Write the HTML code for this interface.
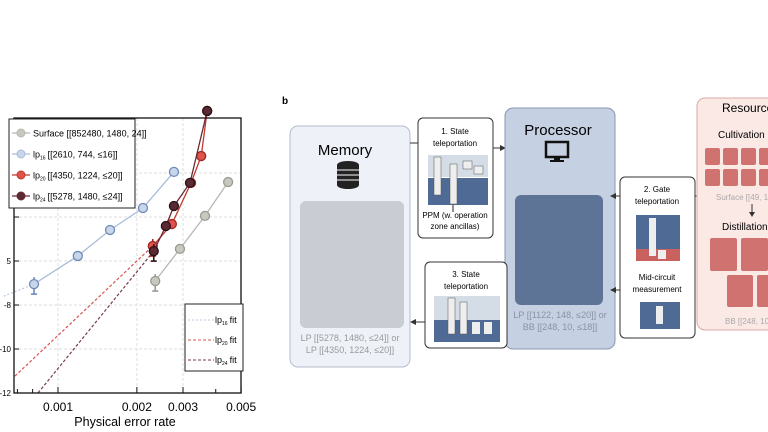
<!DOCTYPE html>
<html><head><meta charset="utf-8">
<style>
body{margin:0;width:768px;height:432px;background:#fff;overflow:hidden;font-family:"Liberation Sans",sans-serif;}
svg{position:absolute;left:0;top:0}
text{font-family:"Liberation Sans",sans-serif}
</style></head>
<body>
<svg id="fig" width="768" height="432">
 <g id="chart"></g>
 <g id="diagram">
  <text x="282" y="104" font-size="10" font-weight="bold">b</text>
  <rect x="290" y="126" width="120" height="241" rx="8" fill="#eef2f8" stroke="#b4bccb"/>
  <text x="345" y="155" font-size="15" text-anchor="middle">Memory</text>
  <g fill="#222">
   <ellipse cx="348" cy="165" rx="11" ry="4"/><rect x="337" y="165" width="22" height="20"/><ellipse cx="348" cy="185" rx="11" ry="4"/>
   <line x1="337" y1="170" x2="359" y2="170" stroke="#fff"/><line x1="337" y1="175" x2="359" y2="175" stroke="#fff"/><line x1="337" y1="180" x2="359" y2="180" stroke="#fff"/>
  </g>
  <rect x="300" y="201" width="104" height="127" rx="6" fill="#c9cdd3"/>
  <text x="350" y="341" font-size="9" fill="#999" text-anchor="middle">LP [[5278, 1480, ≤24]] or</text>
  <text x="350" y="353" font-size="9" fill="#999" text-anchor="middle">LP [[4350, 1224, ≤20]]</text>
  <line x1="410" y1="143" x2="418" y2="143" stroke="#333"/>
  <rect x="418" y="118" width="75" height="120" rx="5" fill="#fff" stroke="#333"/>
  <text x="455" y="134" font-size="8" text-anchor="middle">1. State</text>
  <text x="455" y="146" font-size="8" text-anchor="middle">teleportation</text>
  <rect x="428" y="155" width="60" height="22" fill="#d4dde6"/><rect x="428" y="178" width="60" height="27" fill="#4f6a95"/>
  <rect x="434" y="157" width="7" height="38" fill="#eee" stroke="#555" stroke-width=".5"/><rect x="450" y="164" width="7" height="40" fill="#eee" stroke="#555" stroke-width=".5"/>
  <rect x="463" y="161" width="9" height="8" fill="#eee" stroke="#555" stroke-width=".5"/><rect x="474" y="166" width="9" height="8" fill="#eee" stroke="#555" stroke-width=".5"/>
  <line x1="453" y1="205" x2="453" y2="212" stroke="#222"/>
  <text x="455" y="218" font-size="8" text-anchor="middle">PPM (w. operation</text>
  <text x="455" y="229" font-size="8" text-anchor="middle">zone ancillas)</text>
  <line x1="493" y1="148" x2="503" y2="148" stroke="#333"/>
  <polygon points="506,148 500,145 500,151" fill="#333"/>
  <rect x="505" y="108" width="110" height="241" rx="8" fill="#c5d0e3" stroke="#8896b0"/>
  <text x="558" y="135" font-size="15" text-anchor="middle">Processor</text>
  <g><rect x="546" y="142" width="22" height="15" fill="none" stroke="#111" stroke-width="2.5"/><rect x="554" y="157" width="6" height="3" fill="#111"/><rect x="550" y="160" width="14" height="2" fill="#111"/></g>
  <rect x="515" y="195" width="88" height="110" rx="6" fill="#5e7497"/>
  <text x="560" y="318" font-size="9" fill="#8a93a3" text-anchor="middle">LP [[1122, 148, ≤20]] or</text>
  <text x="560" y="330" font-size="9" fill="#8a93a3" text-anchor="middle">BB [[248, 10, ≤18]]</text>
  <line x1="505" y1="306" x2="507" y2="306" stroke="#333"/>
  <rect x="425" y="262" width="82" height="86" rx="5" fill="#fff" stroke="#333"/>
  <text x="466" y="277" font-size="8" text-anchor="middle">3. State</text>
  <text x="466" y="289" font-size="8" text-anchor="middle">teleportation</text>
  <rect x="434" y="296" width="66" height="24" fill="#d4dde6"/><rect x="434" y="320" width="66" height="22" fill="#4f6a95"/>
  <rect x="448" y="298" width="7" height="36" fill="#eee" stroke="#555" stroke-width=".5"/><rect x="460" y="302" width="7" height="32" fill="#eee" stroke="#555" stroke-width=".5"/><rect x="472" y="322" width="8" height="12" fill="#eee"/><rect x="484" y="322" width="8" height="12" fill="#eee"/>
  <line x1="425" y1="322" x2="414" y2="322" stroke="#333"/>
  <polygon points="410,322 416,319 416,325" fill="#333"/>
  <rect x="620" y="177" width="75" height="161" rx="5" fill="#fff" stroke="#333"/>
  <text x="657" y="192" font-size="8" text-anchor="middle">2. Gate</text>
  <text x="657" y="204" font-size="8" text-anchor="middle">teleportation</text>
  <rect x="636" y="215" width="44" height="34" fill="#4f6a95"/><rect x="636" y="249" width="44" height="12" fill="#c9625f"/>
  <rect x="649" y="218" width="7" height="38" fill="#eee"/><rect x="658" y="250" width="8" height="9" fill="#eee"/>
  <text x="657" y="280" font-size="8" text-anchor="middle">Mid-circuit</text>
  <text x="657" y="292" font-size="8" text-anchor="middle">measurement</text>
  <rect x="640" y="302" width="40" height="27" fill="#4f6a95"/><rect x="656" y="306" width="7" height="18" fill="#eee"/>
  <line x1="620" y1="196" x2="614" y2="196" stroke="#333"/><polygon points="610,196 616,193 616,199" fill="#333"/>
  <line x1="620" y1="290" x2="614" y2="290" stroke="#333"/><polygon points="610,290 616,287 616,293" fill="#333"/>
  <line x1="695" y1="196" x2="700" y2="196" stroke="#333"/>
  <rect x="697" y="98" width="90" height="232" rx="8" fill="#fbe9e6" stroke="#d9a9a5"/>
  <text x="722" y="112" font-size="12">Resource</text>
  <text x="718" y="138" font-size="10">Cultivation</text>
  <g fill="#d0726f">
   <rect x="705" y="148" width="15" height="17" rx="2"/><rect x="723" y="148" width="15" height="17" rx="2"/><rect x="741" y="148" width="15" height="17" rx="2"/><rect x="759" y="148" width="15" height="17" rx="2"/>
   <rect x="705" y="169" width="15" height="17" rx="2"/><rect x="723" y="169" width="15" height="17" rx="2"/><rect x="741" y="169" width="15" height="17" rx="2"/><rect x="759" y="169" width="15" height="17" rx="2"/>
  </g>
  <text x="716" y="200" font-size="8" fill="#aaa">Surface [[49, 1</text>
  <line x1="752" y1="204" x2="752" y2="214" stroke="#333"/><polygon points="752,217 749,212 755,212" fill="#333"/>
  <text x="722" y="230" font-size="10">Distillation</text>
  <g fill="#d0726f">
   <rect x="710" y="238" width="27" height="33" rx="2"/><rect x="741" y="238" width="27" height="33" rx="2"/>
   <rect x="727" y="275" width="26" height="32" rx="2"/><rect x="757" y="275" width="26" height="32" rx="2"/>
  </g>
  <text x="725" y="324" font-size="8" fill="#aaa">BB [[248, 10</text>
 </g>
</svg>
<script>
const seriesNames=["Surface [[852480, 1480, 24]]","lp16 [[2610, 744, ≤16]]","lp20 [[4350, 1224, ≤20]]","lp24 [[5278, 1480, ≤24]]"];
const surfaceP=[0.00235,0.00292,0.00364,0.00446];
const surfaceLogL=[-6.91,-5.45,-3.95,-2.41];
const lp16P=[0.00081,0.00119,0.00158,0.00211,0.00277];
const lp16LogL=[-7.05,-5.77,-4.59,-3.59,-1.95];
const lp20P=[0.00230,0.00272,0.00322,0.00352,0.00371];
const lp20LogL=[-5.32,-4.32,-2.45,-1.23,0.82];
const lp24P=[0.00232,0.00258,0.00277,0.00319,0.00371];
const lp24LogL=[-5.55,-4.41,-3.5,-2.45,0.82];
const fit16P=[0.00062,0.00081];const fit16LogL=[-7.6,-7.05];
const fit20P=[0.000685,0.00230];const fit20LogL=[-11.23,-5.32];
const fit24P=[0.000839,0.00232];const fit24LogL=[-12,-5.55];
const xTicks=[0.001,0.002,0.003,0.005];
const xTickLabels=["0.001","0.002","0.003","0.005"];
const yTicks=[-12,-10,-8,-6,-4,-2];
const yTickLabels=["-12","-10","-8","5","",""];

const NS="http://www.w3.org/2000/svg";
const g=document.getElementById('chart');
const X=p=>58+262*Math.log10(p/0.001);
const Y=l=>393-22*(l+12);
function mk(tag,attrs,parent){const e=document.createElementNS(NS,tag);for(const k in attrs)e.setAttribute(k,attrs[k]);(parent||g).appendChild(e);return e;}
const L=14,R=241,T=118,B=393;
mk('rect',{x:L,y:T,width:R-L,height:B-T,fill:'#fff'});
for(let i=0;i<xTicks.length;i++){const gl=mk('line',{x1:X(xTicks[i]),x2:X(xTicks[i]),y1:T,y2:B,stroke:'#ddd','stroke-dasharray':'3,2'});

}
for(let i=0;i<yTicks.length;i++){const gl=mk('line',{x1:L,x2:R,y1:Y(yTicks[i]),y2:Y(yTicks[i]),stroke:'#ddd','stroke-dasharray':'3,2'});

}
function fitLine(px,pl,color,dash,name){const l=mk('line',{x1:X(px[0]),y1:Y(pl[0]),x2:X(px[1]),y2:Y(pl[1]),stroke:color,'stroke-width':1.2,'stroke-dasharray':dash});

}
fitLine(fit16P,fit16LogL,'#b9c8e0','2,2','fit-lp16');
fitLine(fit20P,fit20LogL,'#d9534f','3,2','fit-lp20');
fitLine(fit24P,fit24LogL,'#7a3a4a','3,2','fit-lp24');
function series(px,pl,line,fill,stroke,name){
 const pts=px.map((p,i)=>X(p)+','+Y(pl[i])).join(' ');
 const pl_=mk('polyline',{points:pts,fill:'none',stroke:line,'stroke-width':1.3});
 
 
 const e=mk('line',{x1:X(px[0]),x2:X(px[0]),y1:Y(pl[0])-7,y2:Y(pl[0])+10,stroke:stroke,'stroke-width':1.6});
 
 
 mk('line',{x1:X(px[0])-3,x2:X(px[0])+3,y1:Y(pl[0])+10,y2:Y(pl[0])+10,stroke:stroke,'stroke-width':1.6});
 px.forEach((p,i)=>{const c=mk('circle',{cx:X(p),cy:Y(pl[i]),r:4.5,fill:fill,stroke:stroke,'stroke-width':1.3});
 
 });
}
series(surfaceP,surfaceLogL,'#b8b8b0','#c8c8c0','#9a9a92','surface');
series(lp16P,lp16LogL,'#a9bcd8','#c8d6ec','#6f8ab8','lp16');
series(lp20P,lp20LogL,'#c0392b','#e0534a','#a02a22','lp20');
series(lp24P,lp24LogL,'#6a2a35','#5a2a32','#2a1015','lp24');
mk('rect',{x:L,y:T,width:R-L,height:B-T,fill:'none',stroke:'#111','stroke-width':1.3});
for(let i=0;i<xTicks.length;i++){const x=X(xTicks[i]);mk('line',{x1:x,x2:x,y1:B,y2:B-6,stroke:'#111'});
const t=mk('text',{x:x,y:B+18,'font-size':12,'text-anchor':'middle'});t.textContent=xTickLabels[i];

}
[0.0007,0.0008,0.0004].forEach(p=>{if(X(p)>L)mk('line',{x1:X(p),x2:X(p),y1:B,y2:B-4,stroke:'#111'});});
mk('line',{x1:X(0.004),x2:X(0.004),y1:B,y2:B-4,stroke:'#111'});
for(let i=0;i<yTicks.length;i++){const y=Y(yTicks[i]);mk('line',{x1:L,x2:L+5,y1:y,y2:y,stroke:'#111'});
const t=mk('text',{x:L-3,y:y+3,'font-size':8,'text-anchor':'end'});t.textContent=yTickLabels[i];

}
const xl=mk('text',{x:125,y:426,'font-size':12.5,'text-anchor':'middle'});xl.textContent='Physical error rate';


const lg=mk('g',{});


mk('rect',{x:9,y:119,width:126,height:89,fill:'#fff',stroke:'#222'},lg);
const lcol=[['#b8b8b0','#c8c8c0'],['#a9bcd8','#c8d6ec'],['#c0392b','#e0534a'],['#6a2a35','#5a2a32']];
const labs=[["Surface [[852480, 1480, 24]]"],["lp","16","[[2610, 744, ≤16]]"],["lp","20","[[4350, 1224, ≤20]]"],["lp","24","[[5278, 1480, ≤24]]"]];
for(let i=0;i<4;i++){const y=133+i*21;
 mk('line',{x1:12,x2:30,y1:y,y2:y,stroke:lcol[i][0],'stroke-width':1.3},lg);
 mk('circle',{cx:21,cy:y,r:4,fill:lcol[i][1],stroke:lcol[i][0]},lg);
 const t=mk('text',{x:33,y:y+3.5,'font-size':9},lg);
 
 
 if(labs[i].length===1)t.textContent=labs[i][0];
 else{t.textContent=labs[i][0];const s=mk('tspan',{'font-size':5,dy:2},t);s.textContent=labs[i][1];const s2=mk('tspan',{dy:-2,dx:2},t);s2.textContent=labs[i][2];}
}
const fl=mk('g',{});


mk('rect',{x:185,y:304,width:58,height:67,fill:'#fff',stroke:'#222'},fl);
const fc=[['#b9c8e0','2,2','16'],['#d9534f','3,2','20'],['#7a3a4a','3,2','24']];
fc.forEach((f,i)=>{const y=320+i*20;mk('line',{x1:188,x2:214,y1:y,y2:y,stroke:f[0],'stroke-dasharray':f[1]},fl);
 const t=mk('text',{x:215,y:y+3,'font-size':9},fl);t.textContent='lp';
 
 
 const s=mk('tspan',{'font-size':5,dy:2},t);s.textContent=f[2];const s2=mk('tspan',{dy:-2,dx:2},t);s2.textContent='fit';});
</script>
</body></html>
